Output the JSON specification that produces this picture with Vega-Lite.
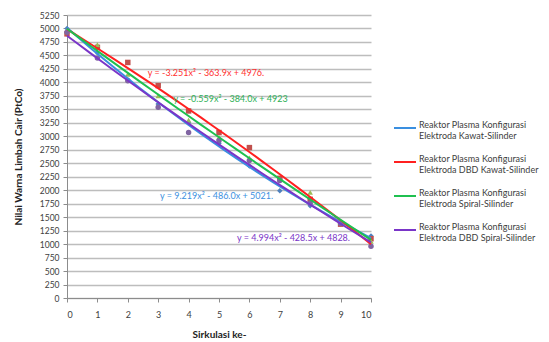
{
  "$schema": "https://vega.github.io/schema/vega-lite/v6.json",
  "width": 304,
  "height": 283,
  "autosize": "none",
  "padding": {"left": 67, "top": 15, "right": 178, "bottom": 44},
  "background": "white",
  "config": {"font": "Lato", "view": {"stroke": null}},
  "datasets": {
    "pts": [
      {"series": "Kawat-Silinder", "x": 0, "y": 5000},
      {"series": "Kawat-Silinder", "x": 1, "y": 4550},
      {"series": "Kawat-Silinder", "x": 2, "y": 4050},
      {"series": "Kawat-Silinder", "x": 3, "y": 3600},
      {"series": "Kawat-Silinder", "x": 4, "y": 3250},
      {"series": "Kawat-Silinder", "x": 5, "y": 2870},
      {"series": "Kawat-Silinder", "x": 6, "y": 2450},
      {"series": "Kawat-Silinder", "x": 7, "y": 1990},
      {"series": "Kawat-Silinder", "x": 8, "y": 1710},
      {"series": "Kawat-Silinder", "x": 9, "y": 1400},
      {"series": "Kawat-Silinder", "x": 10, "y": 1150},
      {"series": "DBD Kawat-Silinder", "x": 0, "y": 4900},
      {"series": "DBD Kawat-Silinder", "x": 1, "y": 4650},
      {"series": "DBD Kawat-Silinder", "x": 2, "y": 4370},
      {"series": "DBD Kawat-Silinder", "x": 3, "y": 3940},
      {"series": "DBD Kawat-Silinder", "x": 4, "y": 3470},
      {"series": "DBD Kawat-Silinder", "x": 5, "y": 3070},
      {"series": "DBD Kawat-Silinder", "x": 6, "y": 2790},
      {"series": "DBD Kawat-Silinder", "x": 7, "y": 2220},
      {"series": "DBD Kawat-Silinder", "x": 8, "y": 1830},
      {"series": "DBD Kawat-Silinder", "x": 9, "y": 1370},
      {"series": "DBD Kawat-Silinder", "x": 10, "y": 1100},
      {"series": "Spiral-Silinder", "x": 0, "y": 4950},
      {"series": "Spiral-Silinder", "x": 1, "y": 4700},
      {"series": "Spiral-Silinder", "x": 2, "y": 4150},
      {"series": "Spiral-Silinder", "x": 3, "y": 3750},
      {"series": "Spiral-Silinder", "x": 4, "y": 3300},
      {"series": "Spiral-Silinder", "x": 5, "y": 2980},
      {"series": "Spiral-Silinder", "x": 6, "y": 2600},
      {"series": "Spiral-Silinder", "x": 7, "y": 2200},
      {"series": "Spiral-Silinder", "x": 8, "y": 1960},
      {"series": "Spiral-Silinder", "x": 9, "y": 1400},
      {"series": "Spiral-Silinder", "x": 10, "y": 1050},
      {"series": "DBD Spiral-Silinder", "x": 0, "y": 4930},
      {"series": "DBD Spiral-Silinder", "x": 1, "y": 4450},
      {"series": "DBD Spiral-Silinder", "x": 2, "y": 4030},
      {"series": "DBD Spiral-Silinder", "x": 3, "y": 3540},
      {"series": "DBD Spiral-Silinder", "x": 4, "y": 3070},
      {"series": "DBD Spiral-Silinder", "x": 5, "y": 2920},
      {"series": "DBD Spiral-Silinder", "x": 6, "y": 2550},
      {"series": "DBD Spiral-Silinder", "x": 7, "y": 2180},
      {"series": "DBD Spiral-Silinder", "x": 8, "y": 1760},
      {"series": "DBD Spiral-Silinder", "x": 9, "y": 1380},
      {"series": "DBD Spiral-Silinder", "x": 10, "y": 960}
    ],
    "eqs": [
      {"series": "DBD Kawat-Silinder", "x": 2.66, "y": 4174, "label": "y = -3.251x² - 363.9x + 4976."},
      {"series": "Spiral-Silinder", "x": 3.5, "y": 3691, "label": "y = -0.559x² - 384.0x + 4923"},
      {"series": "Kawat-Silinder", "x": 3.06, "y": 1892, "label": "y = 9.219x² - 486.0x + 5021."},
      {"series": "DBD Spiral-Silinder", "x": 5.59, "y": 1113, "label": "y = 4.994x² - 428.5x + 4828."}
    ]
  },
  "encoding": {
    "x": {
      "field": "x", "type": "quantitative",
      "scale": {"domain": [0, 10], "nice": false, "zero": false},
      "axis": {
        "values": [0, 1, 2, 3, 4, 5, 6, 7, 8, 9, 10],
        "grid": false,
        "title": "Sirkulasi ke-",
        "titleFontSize": 10, "titleFontWeight": "bold", "titleColor": "#222222",
        "titlePadding": 10,
        "labelFontSize": 9, "labelColor": "#404040", "labelPadding": 8,
        "domainColor": "#8c8c8c", "tickColor": "#8c8c8c", "tickSize": 4
      }
    },
    "y": {
      "field": "y", "type": "quantitative",
      "scale": {"domain": [0, 5250], "nice": false},
      "axis": {
        "values": [0, 250, 500, 750, 1000, 1250, 1500, 1750, 2000, 2250, 2500, 2750, 3000, 3250, 3500, 3750, 4000, 4250, 4500, 4750, 5000, 5250],
        "format": "d",
        "grid": true, "gridColor": "#bdbdbd", "gridWidth": 1.5,
        "title": "Nilai Warna Limbah Cair (PtCo)",
        "titleFontSize": 10, "titleFontWeight": "bold", "titleColor": "#222222",
        "titlePadding": 16,
        "labelFontSize": 8.5, "labelColor": "#404040", "labelPadding": 4,
        "domainColor": "#8c8c8c", "tickColor": "#8c8c8c", "tickSize": 4
      }
    }
  },
  "layer": [
    {
      "data": {"name": "pts"},
      "mark": {"type": "point", "filled": true, "size": 30, "opacity": 1},
      "encoding": {
        "shape": {
          "field": "series", "type": "nominal",
          "scale": {"domain": ["Spiral-Silinder", "Kawat-Silinder", "DBD Kawat-Silinder", "DBD Spiral-Silinder"], "range": ["triangle-up", "diamond", "square", "circle"]},
          "legend": null
        },
        "fill": {
          "field": "series", "type": "nominal",
          "scale": {"domain": ["DBD Kawat-Silinder", "Kawat-Silinder", "Spiral-Silinder", "DBD Spiral-Silinder"], "range": ["#C0504D", "#4F81BD", "#9BBB59", "#8064A2"]},
          "legend": null
        }
      }
    },
    {
      "data": {"name": "pts"},
      "transform": [
        {"regression": "y", "on": "x", "groupby": ["series"], "method": "poly", "order": 2}
      ],
      "mark": {"type": "line", "strokeWidth": 2},
      "encoding": {
        "stroke": {
          "field": "series", "type": "nominal",
          "scale": {"domain": ["Kawat-Silinder", "DBD Kawat-Silinder", "Spiral-Silinder", "DBD Spiral-Silinder"], "range": ["#3a8fe0", "#ff2020", "#1fc050", "#7a35c8"]},
          "legend": {
            "title": null,
            "orient": "none", "legendX": 326, "legendY": 101,
            "symbolType": "stroke", "symbolSize": 484, "symbolStrokeWidth": 2,
            "labelExpr": "['Reaktor Plasma  Konfigurasi', 'Elektroda ' + datum.label]",
            "labelBaseline": "alphabetic",
            "labelFontSize": 9, "labelColor": "#404040", "labelOffset": 2,
            "rowPadding": 9, "labelLimit": 200
          }
        }
      }
    },
    {
      "data": {"name": "eqs"},
      "mark": {"type": "text", "align": "left", "baseline": "middle", "fontSize": 9},
      "encoding": {
        "text": {"field": "label"},
        "color": {
          "field": "series", "type": "nominal",
          "scale": {"domain": ["DBD Spiral-Silinder", "Kawat-Silinder", "DBD Kawat-Silinder", "Spiral-Silinder"], "range": ["#7a35c8", "#3a8fe0", "#ff3030", "#2bb055"]},
          "legend": null
        }
      }
    }
  ]
}
